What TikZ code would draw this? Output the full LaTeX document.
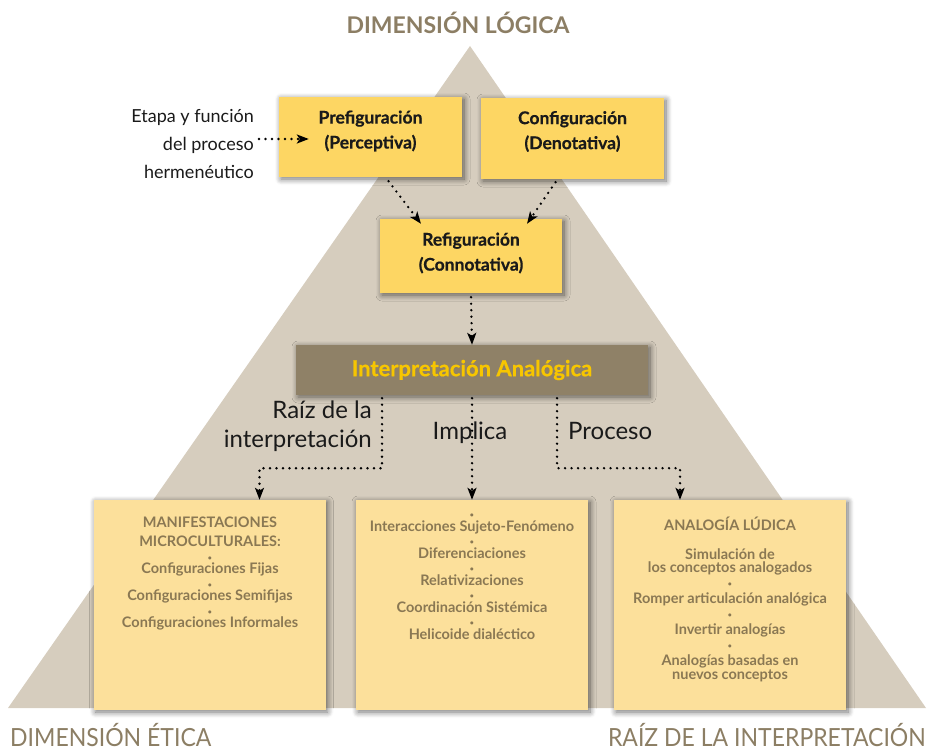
\documentclass[tikz,border=0pt]{standalone}
\usepackage{fontspec}
\setmainfont{Lato}
\newfontfamily\condfont[FakeStretch=0.92]{Lato}
\newfontfamily\heavyfont[FakeBold=0.6]{Lato}
\usetikzlibrary{shadows.blur,arrows.meta,calc}
\definecolor{tri}{HTML}{D6CDBE}
\definecolor{boxtop}{HTML}{FDD663}
\definecolor{boxbot}{HTML}{FCE09B}
\definecolor{interpc}{HTML}{8F8167}
\definecolor{gold}{HTML}{F7C600}
\definecolor{brownt}{HTML}{8A7853}
\definecolor{titlec}{HTML}{8C7E64}
\definecolor{ink}{HTML}{1A1A1A}
\newcommand{\bdot}{{\fontsize{7}{7}\selectfont •}}
\tikzset{
  shad/.style={blur shadow={shadow xshift=2pt,shadow yshift=-2pt,shadow blur steps=8,shadow blur radius=6pt,shadow opacity=55}},
  topbox/.style={shad,fill=boxtop,draw=none,inner sep=0pt},
  toptext/.style={inner sep=0pt,align=center,text=ink,font=\fontsize{17.5}{25}\heavyfont\bfseries},
  botbox/.style={shad,fill=boxbot,draw=none,inner sep=0pt,minimum width=232pt,minimum height=210pt},
  bottext/.style={inner sep=0pt,align=center,text=brownt,font=\fontsize{14.5}{13.5}\selectfont\bfseries},
  plain/.style={inner sep=0pt,text=ink,font=\fontsize{24}{29}\selectfont},
  conn/.style={draw=black,line width=2.6pt,line cap=round,dash pattern=on 0pt off 6.5pt,
    -{Stealth[length=12pt,width=9pt,inset=3pt]}},
  dimlabel/.style={inner sep=0pt,text=titlec}
}
\begin{document}
\begin{tikzpicture}[x=1pt,y=-1pt]
\useasboundingbox (0,0) rectangle (931,752);
\fill[tri] (470,46) -- (926,708) -- (8,708) -- cycle;

% titles
\node[dimlabel,font=\fontsize{23}{24}\selectfont\bfseries,anchor=base] (tlog) at (458,34) {DIMENSIÓN LÓGICA};
\node[dimlabel,font=\fontsize{25}{26}\condfont,anchor=base west] (teti) at (10,746) {DIMENSIÓN ÉTICA};
\node[dimlabel,font=\fontsize{25}{26}\condfont,anchor=base east] (traiz) at (926,746) {RAÍZ DE LA INTERPRETACIÓN};

% top boxes
\node[topbox,minimum width=183pt,minimum height=80pt] (prefig) at (370.5,137) {};
\node[toptext] (prefigT) at ([yshift=6pt]prefig.center) {Prefiguración\\(Perceptiva)};
\node[topbox,minimum width=183pt,minimum height=81pt] (config) at (572.5,138.5) {};
\node[toptext] (configT) at ([yshift=7pt]config.center) {Configuración\\(Denotativa)};
\node[topbox,minimum width=182pt,minimum height=74pt] (refig) at (471,256) {};
\node[toptext] (refigT) at ([yshift=3pt]refig.center) {Refiguración\\(Connotativa)};

\node[shad,fill=interpc,inner sep=0pt,minimum width=352pt,minimum height=50pt,text=gold,
  font=\fontsize{22}{24}\heavyfont\bfseries] (interp) at (472,370) {Interpretación Analógica};

% side text
\node[inner sep=0pt,text=ink,align=right,font=\fontsize{18}{28}\selectfont,anchor=east] (etapa) at (254,144)
  {Etapa y función\\del proceso\\hermenéutico};

% bottom boxes
\node[botbox] (boxL) at (209.5,605) {};
\node[botbox] (boxM) at (472,605) {};
\node[botbox] (boxR) at (730,605) {};

\node[bottext,anchor=north] (txtL) at (210,517) {MANIFESTACIONES\\[5.5pt]MICROCULTURALES:\\\bdot\\Configuraciones Fijas\\\bdot\\Configuraciones Semifijas\\\bdot\\Configuraciones Informales};
\node[bottext,anchor=north] (txtM) at (472,514) {\bdot\\Interacciones Sujeto-Fenómeno\\\bdot\\Diferenciaciones\\\bdot\\Relativizaciones\\\bdot\\Coordinación Sistémica\\\bdot\\Helicoide dialéctico};
\node[bottext,anchor=north] (txtR) at (730,517) {ANALOGÍA LÚDICA\\[15pt]Simulación de\\los conceptos analogados\\\bdot\\[4pt]Romper articulación analógica\\\bdot\\[4pt]Invertir analogías\\\bdot\\[4pt]Analogías basadas en\\nuevos conceptos};

% connector labels
\node[plain,align=right,anchor=north east] (lraiz) at (372,401) {Raíz de la\\interpretación};
\node[plain,anchor=north] (limp) at (470,422) {Implica};
\node[plain,anchor=north west] (lproc) at (568,422) {Proceso};

% connectors
\draw[conn] ([xshift=5pt,yshift=5pt]etapa.east) -- ([xshift=30pt,yshift=-2pt]prefig.west);
\draw[conn] ([xshift=18pt,yshift=-4pt]prefig.south) -- ([xshift=-50pt,yshift=-5pt]refig.north);
\draw[conn] ([xshift=-17pt,yshift=-3pt]config.south) -- ([xshift=56pt,yshift=-5pt]refig.north);
\draw[conn] ([yshift=-4pt]refig.south) -- (interp.north);
\draw[conn] ([xshift=-90pt,yshift=-3pt]interp.south) -- ++(0,70) -| ([xshift=50pt]boxL.north);
\draw[conn] ([yshift=-3pt]interp.south) -- (boxM.north);
\draw[conn] ([xshift=85pt,yshift=-3pt]interp.south) -- ++(0,70) -| ([xshift=-50pt]boxR.north);
\end{tikzpicture}
\end{document}
